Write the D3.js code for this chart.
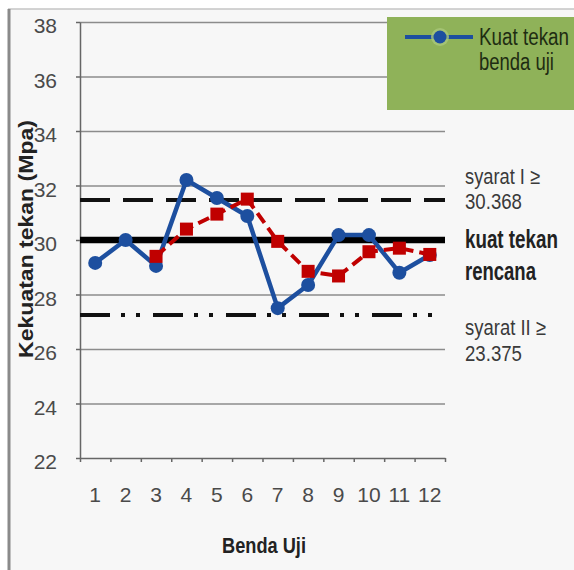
<!DOCTYPE html>
<html>
<head>
<meta charset="utf-8">
<script src="https://cdn.jsdelivr.net/npm/d3@7"></script>
<style>
  html, body { margin: 0; padding: 0; background: #ffffff; }
  svg { display: block; }
</style>
</head>
<body>
<svg id="chart" width="574" height="570"></svg>
<script>
// ---- data ----
const categories = ["1","2","3","4","5","6","7","8","9","10","11","12"];
const kuatTekanBendaUji = [29.16, 30.0, 29.05, 32.2, 31.54, 30.88, 27.5, 28.35, 30.18, 30.18, 28.8, 29.45];
const rataRata = [null, null, 29.4, 30.4, 30.95, 31.5, 29.95, 28.85, 28.68, 29.57, 29.7, 29.47];
const yTicks = [22, 24, 26, 28, 30, 32, 34, 36, 38];
const syaratI = 31.47;
const kuatTekanRencana = 30;
const syaratII = 27.25;
const legendLabel = ["Kuat tekan", "benda uji"];
const labelSyaratI = ["syarat I \u2265", "30.368"];
const labelRencana = ["kuat tekan", "rencana"];
const labelSyaratII = ["syarat II \u2265", "23.375"];
const yTitle = "Kekuatan tekan (Mpa)";
const xTitle = "Benda Uji";

// ---- layout ----
const svg = d3.select("#chart");
const L = 80, R = 445, T = 22, B = 458;
const NARROW = "'Liberation Sans Narrow', 'Arial Narrow', 'Liberation Sans', sans-serif";
const SANS = "'Liberation Sans', Arial, sans-serif";

const x = d3.scaleBand().domain(categories).range([L, R]);
const xEdge = d3.scaleLinear().domain([0, categories.length]).range([L, R]);
const y = d3.scaleLinear().domain([22, 38]).range([B, T]);
const cx = c => x(c) + x.bandwidth() / 2;

// frame / background
svg.append("rect").attr("x", 8).attr("y", 9).attr("width", 566).attr("height", 561).attr("fill", "#f7f7f7");
svg.append("line").attr("x1", 8).attr("x2", 574).attr("y1", 9).attr("y2", 9).attr("stroke", "#c4c4c4").attr("stroke-width", 1.5);
svg.append("line").attr("x1", 9).attr("x2", 9).attr("y1", 9).attr("y2", 570).attr("stroke", "#8a8a8a").attr("stroke-width", 3);

// text helper: fits natural width to target length with a horizontal scale
function txt(parent, o) {
  const t = parent.append("text")
    .attr("font-family", o.family || NARROW)
    .attr("font-size", o.size)
    .attr("font-weight", o.weight || "normal")
    .attr("fill", o.fill || "#333")
    .attr("text-anchor", o.anchor || "start")
    .text(o.text);
  let sx = 1;
  if (o.len) {
    const w = t.node().getComputedTextLength();
    if (w > 0) sx = o.len / w;
  }
  t.attr("transform", `translate(${o.x},${o.y})${o.rot ? ` rotate(${o.rot})` : ""} scale(${sx},${o.sy || 1})`);
  return t;
}

// gridlines
const grid = svg.append("g").attr("transform", `translate(${L},0)`)
  .call(d3.axisLeft(y).tickValues(yTicks.slice(1)).tickSize(-(R - L)).tickFormat(""));
grid.select(".domain").remove();
grid.selectAll("line").attr("stroke", "#8c8c8c").attr("stroke-width", 1.5);

// y axis
const yAx = svg.append("g").attr("transform", `translate(${L},0)`)
  .call(d3.axisLeft(y).tickValues(yTicks).tickSize(4).tickSizeOuter(0).tickPadding(19));
yAx.select(".domain").attr("stroke", "#666").attr("stroke-width", 1.5);
yAx.selectAll("line").attr("stroke", "#666").attr("stroke-width", 1.5);
yAx.selectAll("text").attr("font-family", NARROW).attr("font-size", 21).attr("fill", "#4a4a4a").attr("dy", "0.5em");

// x axis: tick marks at band edges
const xTickAx = svg.append("g").attr("transform", `translate(0,${B})`)
  .call(d3.axisBottom(xEdge).tickValues(d3.range(0, categories.length + 1)).tickSize(4).tickSizeOuter(0).tickFormat(""));
xTickAx.select(".domain").attr("stroke", "#666").attr("stroke-width", 1.5);
xTickAx.selectAll("line").attr("stroke", "#666").attr("stroke-width", 1.5);

// x labels at band centres
const xLab = svg.append("g").attr("transform", `translate(0,${B})`)
  .call(d3.axisBottom(x).tickSize(0).tickPadding(0));
xLab.select(".domain").remove();
xLab.selectAll("text").attr("font-family", NARROW).attr("font-size", 21).attr("fill", "#4a4a4a")
  .attr("dy", 0).attr("y", 44);

// reference lines
const ref = svg.append("g");
ref.append("line").attr("x1", L).attr("x2", R).attr("y1", y(syaratI)).attr("y2", y(syaratI))
  .attr("stroke", "#111").attr("stroke-width", 4).attr("stroke-dasharray", "30 13");
ref.append("line").attr("x1", L).attr("x2", R).attr("y1", y(kuatTekanRencana)).attr("y2", y(kuatTekanRencana))
  .attr("stroke", "#000").attr("stroke-width", 6.5);
ref.append("line").attr("x1", L).attr("x2", R).attr("y1", y(syaratII)).attr("y2", y(syaratII))
  .attr("stroke", "#111").attr("stroke-width", 4).attr("stroke-dasharray", "30 11 4 11 4 13");

// blue series
const lineB = d3.line().x((d, i) => cx(categories[i])).y(d => y(d));
svg.append("path").datum(kuatTekanBendaUji).attr("d", lineB)
  .attr("fill", "none").attr("stroke", "#1d4f9f").attr("stroke-width", 4.5).attr("stroke-linejoin", "round");
svg.append("g").selectAll("circle").data(kuatTekanBendaUji).join("circle")
  .attr("cx", (d, i) => cx(categories[i])).attr("cy", d => y(d)).attr("r", 7).attr("fill", "#1d4f9f");

// red series (dashed, squares)
const redPts = rataRata.map((v, i) => ({c: categories[i], v})).filter(d => d.v !== null);
const lineR = d3.line().x(d => cx(d.c)).y(d => y(d.v));
svg.append("path").datum(redPts).attr("d", lineR)
  .attr("fill", "none").attr("stroke", "#c00000").attr("stroke-width", 4).attr("stroke-dasharray", "12 6");
svg.append("g").selectAll("rect").data(redPts).join("rect")
  .attr("x", d => cx(d.c) - 6.5).attr("y", d => y(d.v) - 6.5).attr("width", 13).attr("height", 13)
  .attr("fill", "#c00000");

// legend
const lg = svg.append("g");
lg.append("rect").attr("x", 387).attr("y", 17).attr("width", 187).attr("height", 93).attr("fill", "#8fb259");
lg.append("line").attr("x1", 405).attr("x2", 473).attr("y1", 37).attr("y2", 37).attr("stroke", "#1d4f9f").attr("stroke-width", 4);
lg.append("circle").attr("cx", 440).attr("cy", 37).attr("r", 9).attr("fill", "#a9c77a").attr("opacity", 0.8);
lg.append("circle").attr("cx", 440).attr("cy", 37).attr("r", 6.5).attr("fill", "#1d4f9f");
txt(lg, {x: 479, y: 45, text: legendLabel[0], size: 21, sy: 1.1, fill: "#1e2c12", len: 90});
txt(lg, {x: 479, y: 70, text: legendLabel[1], size: 21, sy: 1.1, fill: "#1e2c12", len: 75});

// annotations
const an = svg.append("g");
txt(an, {x: 465, y: 184, text: labelSyaratI[0], size: 20, sy: 1.1, fill: "#3a3a3a", len: 75});
txt(an, {x: 465, y: 209, text: labelSyaratI[1], size: 20, sy: 1.1, fill: "#3a3a3a", len: 57});
txt(an, {x: 465, y: 248, text: labelRencana[0], size: 22, sy: 1.15, weight: "bold", fill: "#222", len: 93});
txt(an, {x: 465, y: 280, text: labelRencana[1], size: 22, sy: 1.15, weight: "bold", fill: "#222", len: 71});
txt(an, {x: 465, y: 335, text: labelSyaratII[0], size: 20, sy: 1.1, fill: "#3a3a3a", len: 81});
txt(an, {x: 465, y: 361, text: labelSyaratII[1], size: 20, sy: 1.1, fill: "#3a3a3a", len: 57});

// axis titles
txt(svg, {x: 33, y: 239, rot: -90, text: yTitle, size: 21, weight: "bold", family: SANS, fill: "#222", anchor: "middle", len: 238});
txt(svg, {x: 222, y: 553, text: xTitle, size: 22, weight: "bold", family: SANS, fill: "#222", len: 84});
</script>
</body>
</html>
